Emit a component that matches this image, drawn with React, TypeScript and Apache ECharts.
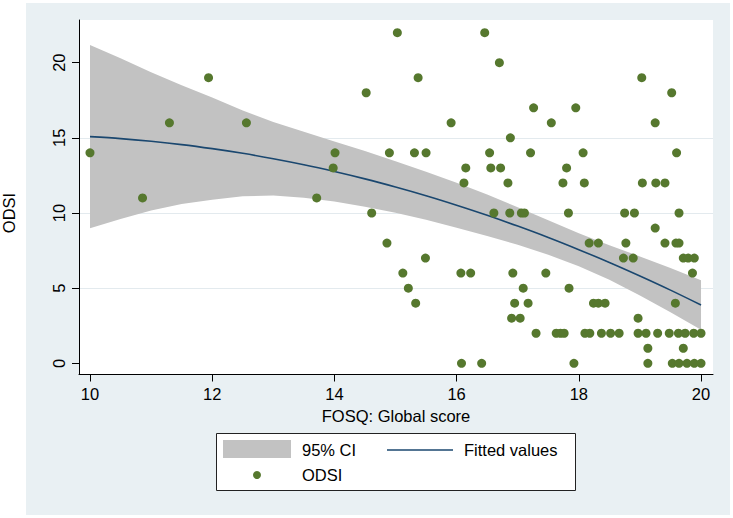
import React, { useEffect, useRef } from 'react';
import * as echarts from 'echarts';

const FONT = '"Liberation Sans", Arial, Helvetica, sans-serif';

// Axis ticks
const xTicks = [10, 12, 14, 16, 18, 20];
const yTicks = [0, 5, 10, 15, 20];

// Scatter: FOSQ global score (x) vs ODSI (y)
const fosqScore = [
  10.0, 10.86, 11.3, 11.94, 12.56,
  15.03, 15.37, 14.52, 14.01, 13.98, 13.71, 14.9, 15.31, 15.5, 14.61, 14.86, 15.49, 15.12, 15.21, 15.33,
  16.46, 16.7, 15.91, 17.26, 17.95, 17.55, 16.88, 16.54, 17.21, 16.15, 16.56, 16.72, 17.8, 16.12, 16.84, 17.74,
  16.61, 16.87, 17.06, 17.11, 17.83, 16.07, 16.23, 16.92, 17.46, 17.09, 17.84, 16.95, 17.17, 16.9, 17.04,
  17.3, 17.63, 17.7, 17.76, 16.08, 16.41, 17.92,
  19.03, 19.52, 19.25, 18.07, 19.6, 18.09, 19.04, 19.26, 19.41, 18.75, 18.91, 19.64, 19.25,
  18.17, 18.32, 18.77, 19.41, 19.59, 19.64, 18.73, 18.89, 19.71, 19.79, 19.89, 19.86,
  18.24, 18.32, 18.43, 19.58, 18.97,
  18.1, 18.18, 18.37, 18.52, 18.66, 18.97, 19.1, 19.29, 19.48, 19.63, 19.74, 19.88, 20.0,
  19.13, 19.71, 19.13, 19.53, 19.64, 19.77, 19.89, 20.0,
];
const odsiValues = [
  14, 11, 16, 19, 16,
  22, 19, 18, 14, 13, 11, 14, 14, 14, 10, 8, 7, 6, 5, 4,
  22, 20, 16, 17, 17, 16, 15, 14, 14, 13, 13, 13, 13, 12, 12, 12,
  10, 10, 10, 10, 10, 6, 6, 6, 6, 5, 5, 4, 4, 3, 3,
  2, 2, 2, 2, 0, 0, 0,
  19, 18, 16, 14, 14, 12, 12, 12, 12, 10, 10, 10, 9,
  8, 8, 8, 8, 8, 8, 7, 7, 7, 7, 7, 6,
  4, 4, 4, 4, 3,
  2, 2, 2, 2, 2, 2, 2, 2, 2, 2, 2, 2, 2,
  1, 1, 0, 0, 0, 0, 0, 0,
];

// Fitted values and 95% CI
const fitX = [10, 10.5, 11, 11.5, 12, 12.5, 13, 13.5, 14, 14.5, 15, 15.5, 16, 16.5, 17, 17.5, 18, 18.5, 19, 19.5, 20];
const fitted = [15.08, 14.95, 14.77, 14.55, 14.28, 13.97, 13.61, 13.21, 12.76, 12.27, 11.73, 11.15, 10.52, 9.85, 9.13, 8.37, 7.56, 6.71, 5.81, 4.87, 3.88];
const ciLower = [8.98, 9.6, 10.17, 10.6, 10.88, 11.12, 11.16, 11.01, 10.76, 10.42, 10.01, 9.55, 9.02, 8.47, 7.88, 7.22, 6.46, 5.56, 4.51, 3.4, 2.23];
const ciUpper = [21.18, 20.3, 19.37, 18.5, 17.68, 16.82, 16.06, 15.41, 14.76, 14.12, 13.45, 12.75, 12.02, 11.23, 10.38, 9.52, 8.66, 7.86, 7.11, 6.34, 5.53];

const GREEN = '#56782e';
const NAVY = '#1a476f';
const BAND = '#c2c2c2';
const BG = '#e9f0f3';
const GRIDC = '#e3eaee';

export default function App() {
  const ref = useRef<HTMLDivElement>(null);
  useEffect(() => {
    if (!ref.current) return;
    const chart = echarts.init(ref.current, undefined, { renderer: 'svg' });
    const textStyle = (x: number, y: number, text: string, align = 'left', rot = 0) => ({
      type: 'text',
      x,
      y,
      rotation: rot,
      z: 100,
      style: {
        text,
        fill: '#000',
        font: `16.5px ${FONT}`,
        fontSize: 16.5,
        fontFamily: FONT,
        textAlign: align,
        align,
        textVerticalAlign: 'middle',
        verticalAlign: 'middle',
      },
    });
    chart.setOption({
      animation: false,
      backgroundColor: 'transparent',
      textStyle: { fontFamily: FONT },
      grid: {
        left: 79,
        right: 20,
        top: 20,
        bottom: 143.5,
        show: true,
        backgroundColor: '#ffffff',
        borderWidth: 0,
        containLabel: false,
      },
      graphic: [
        { type: 'rect', z: -100, silent: true, shape: { x: 26, y: 3, width: 704, height: 512 }, style: { fill: BG } },
        textStyle(9, 213, 'ODSI', 'center', Math.PI / 2),
        { type: 'rect', z: 100, shape: { x: 216.5, y: 433.5, width: 359, height: 57 }, style: { fill: '#fff', stroke: '#222', lineWidth: 1 } },
        { type: 'rect', z: 101, shape: { x: 223, y: 440, width: 68, height: 18 }, style: { fill: BAND } },
        textStyle(302, 450, '95% CI'),
        { type: 'line', z: 101, shape: { x1: 387, y1: 450, x2: 453, y2: 450 }, style: { stroke: NAVY, lineWidth: 1.6 } },
        textStyle(464, 450, 'Fitted values'),
        { type: 'circle', z: 101, shape: { cx: 257, cy: 475, r: 4 }, style: { fill: GREEN } },
        textStyle(302, 475, 'ODSI'),
      ],
      xAxis: {
        type: 'value',
        min: 9.82,
        max: 20.196,
        name: 'FOSQ: Global score',
        nameLocation: 'middle',
        nameGap: 30,
        nameTextStyle: { fontSize: 16.5, color: '#000', fontFamily: FONT },
        axisLine: { show: true, onZero: false, lineStyle: { color: '#000', width: 1 } },
        axisTick: { show: true, length: 7, customValues: xTicks, lineStyle: { color: '#000' } },
        axisLabel: { customValues: xTicks, margin: 11, fontSize: 16.5, color: '#000', fontFamily: FONT },
        splitLine: { show: false },
      },
      yAxis: {
        type: 'value',
        min: -0.745,
        max: 22.84,
        axisLine: { show: true, onZero: false, lineStyle: { color: '#000', width: 1 } },
        axisTick: { show: true, length: 7, customValues: yTicks, lineStyle: { color: '#000' } },
        axisLabel: { customValues: yTicks, rotate: 90, margin: 12, fontSize: 16.5, color: '#000', fontFamily: FONT },
        splitLine: { show: true, showMinLine: false, showMaxLine: false, lineStyle: { color: GRIDC, width: 1 } },
      },
      series: [
        {
          name: '95% CI',
          type: 'custom',
          silent: true,
          z: 1,
          data: fitX.map((x, i) => [x, ciLower[i], ciUpper[i]]),
          encode: { x: 0, y: [1, 2] },
          renderItem: (params: any, api: any) => {
            if (params.dataIndex !== 0) return null;
            const pts: number[][] = [];
            for (let i = 0; i < fitX.length; i++) pts.push(api.coord([fitX[i], ciUpper[i]]));
            for (let i = fitX.length - 1; i >= 0; i--) pts.push(api.coord([fitX[i], ciLower[i]]));
            return { type: 'polygon', shape: { points: pts }, style: { fill: BAND } };
          },
        },
        {
          name: 'Fitted values',
          type: 'line',
          z: 3,
          data: fitX.map((x, i) => [x, fitted[i]]),
          showSymbol: false,
          smooth: 0.3,
          lineStyle: { color: NAVY, width: 1.6 },
          silent: true,
        },
        {
          name: 'ODSI',
          type: 'scatter',
          z: 4,
          symbol: 'circle',
          symbolSize: 9,
          data: fosqScore.map((x, i) => [x, odsiValues[i]]),
          itemStyle: { color: GREEN, opacity: 1 },
        },
      ],
    });
    return () => chart.dispose();
  }, []);
  return (
    <div
      ref={ref}
      style={{ position: 'absolute', left: 0, top: 0, width: 733, height: 518 }}
    />
  );
}
